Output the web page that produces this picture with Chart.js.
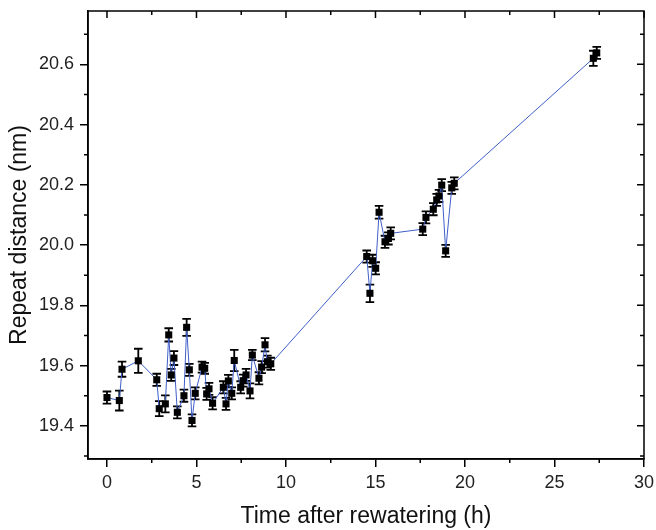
<!DOCTYPE html>
<html>
<head>
<meta charset="utf-8">
<script src="https://cdn.jsdelivr.net/npm/chart.js@4"></script>
<style>
  body { margin: 0; background: #fff; }
  #wrap { width: 656px; height: 530px; }
</style>
</head>
<body>
<div id="wrap"><canvas id="scatter" width="656" height="530"></canvas></div>
<script>
// time after rewatering (h)
var times = [0, 0.69, 0.84, 1.75, 2.78, 2.92, 3.26, 3.45, 3.59, 3.74, 3.93, 4.3, 4.45, 4.6, 4.75, 4.93,
    5.31, 5.46, 5.57, 5.7, 5.9, 6.5, 6.65, 6.78, 6.97, 7.11, 7.47, 7.61, 7.77, 7.99, 8.12, 8.49, 8.64,
    8.83, 8.96, 9.15, 14.51, 14.69, 14.84, 15.01, 15.2, 15.53, 15.72, 15.85, 17.64, 17.82, 18.23, 18.42,
    18.55, 18.7, 18.92, 19.26, 19.4, 27.17, 27.36];
// repeat distance (nm)
var distances = [19.494, 19.484, 19.588, 19.616, 19.553, 19.457, 19.473, 19.702, 19.569, 19.625, 19.445,
    19.5, 19.727, 19.586, 19.418, 19.508, 19.595, 19.591, 19.506, 19.523, 19.475, 19.528, 19.473, 19.549,
    19.508, 19.617, 19.528, 19.55, 19.569, 19.516, 19.635, 19.558, 19.595, 19.669, 19.613, 19.606,
    19.962, 19.84, 19.948, 19.923, 20.109, 20.011, 20.022, 20.039, 20.053, 20.092, 20.119, 20.15,
    20.163, 20.199, 19.981, 20.19, 20.205, 20.62, 20.638];
// error bar half-heights (nm)
var errors = [0.02, 0.033, 0.025, 0.04, 0.02, 0.025, 0.028, 0.022, 0.02, 0.023, 0.02,
    0.02, 0.028, 0.02, 0.02, 0.02, 0.018, 0.018, 0.02, 0.02, 0.02, 0.02, 0.02, 0.02,
    0.02, 0.035, 0.02, 0.02, 0.02, 0.025, 0.017, 0.02, 0.02, 0.022, 0.02, 0.02,
    0.02, 0.029, 0.02, 0.02, 0.021, 0.02, 0.02, 0.02, 0.02, 0.02, 0.02, 0.02,
    0.02, 0.02, 0.02, 0.02, 0.02, 0.025, 0.02];

var xTicks = [0, 5, 10, 15, 20, 25, 30];
var xMinor = [2.5, 7.5, 12.5, 17.5, 22.5, 27.5];
var yTicks = [19.4, 19.6, 19.8, 20.0, 20.2, 20.4, 20.6];
var yMinor = [19.3, 19.5, 19.7, 19.9, 20.1, 20.3, 20.5, 20.7];

var points = times.map(function (t, i) { return { x: t, y: distances[i] }; });

// error bars + Origin-style frame with mirrored inward ticks
var framePlugin = {
    id: 'frame',
    beforeDatasetsDraw: function (chart) {
        var c = chart.ctx, xs = chart.scales.x, ys = chart.scales.y;
        c.save();
        c.strokeStyle = '#000';
        c.lineWidth = 1.8;
        points.forEach(function (p, i) {
            var px = xs.getPixelForValue(p.x);
            var top = ys.getPixelForValue(p.y + errors[i]);
            var bot = ys.getPixelForValue(p.y - errors[i]);
            c.beginPath();
            c.moveTo(px, top); c.lineTo(px, bot);
            c.moveTo(px - 4.3, top); c.lineTo(px + 4.3, top);
            c.moveTo(px - 4.3, bot); c.lineTo(px + 4.3, bot);
            c.stroke();
        });
        c.restore();
    },
    afterDraw: function (chart) {
        var c = chart.ctx, a = chart.chartArea, xs = chart.scales.x, ys = chart.scales.y;
        c.save();
        c.strokeStyle = '#000';
        c.lineWidth = 1.5;
        c.strokeRect(a.left, a.top, a.right - a.left, a.bottom - a.top);
        c.beginPath();
        xTicks.forEach(function (v) {
            var px = xs.getPixelForValue(v);
            c.moveTo(px, a.top); c.lineTo(px, a.top + 7);
        });
        xMinor.forEach(function (v) {
            var px = xs.getPixelForValue(v);
            c.moveTo(px, a.top); c.lineTo(px, a.top + 4);
            c.moveTo(px, a.bottom); c.lineTo(px, a.bottom + 4);
        });
        yTicks.forEach(function (v) {
            var py = ys.getPixelForValue(v);
            c.moveTo(a.right, py); c.lineTo(a.right - 7, py);
        });
        yMinor.forEach(function (v) {
            var py = ys.getPixelForValue(v);
            c.moveTo(a.right, py); c.lineTo(a.right - 4, py);
            c.moveTo(a.left, py); c.lineTo(a.left - 4, py);
        });
        c.stroke();
        c.restore();
    }
};

var ctx = document.getElementById('scatter').getContext('2d');
var chart = new Chart(ctx, {
    type: 'scatter',
    data: {
        datasets: [{
            data: points,
            showLine: true,
            borderColor: '#3f5fc8',
            borderWidth: 1,
            pointStyle: 'rect',
            pointRadius: 5,
            pointBackgroundColor: '#000',
            pointBorderColor: '#000',
            pointBorderWidth: 0
        }]
    },
    plugins: [framePlugin],
    options: {
        responsive: false,
        animation: false,
        layout: { padding: { top: 11, right: 12, left: 0, bottom: 0 } },
        plugins: {
            legend: { display: false },
            tooltip: { enabled: false }
        },
        scales: {
            x: {
                type: 'linear',
                min: -1.06,
                max: 30,
                afterBuildTicks: function (s) { s.ticks = xTicks.map(function (v) { return { value: v }; }); },
                afterFit: function (s) { s.height = 71; s.paddingLeft = 0; s.paddingRight = 0; },
                grid: { drawOnChartArea: false, drawTicks: true, tickLength: 8, color: '#000', lineWidth: 1.5 },
                border: { color: '#000', width: 1.5 },
                ticks: {
                    padding: 5,
                    color: '#222',
                    maxRotation: 0,
                    font: { family: 'Arial, "Liberation Sans"', size: 18 }
                },
                title: {
                    display: true,
                    text: 'Time after rewatering (h)',
                    color: '#111',
                    padding: { top: 0, bottom: 0 },
                    font: { family: 'Arial, "Liberation Sans"', size: 23 }
                }
            },
            y: {
                type: 'linear',
                min: 19.29,
                max: 20.777,
                afterBuildTicks: function (s) { s.ticks = yTicks.map(function (v) { return { value: v }; }); },
                afterFit: function (s) { s.width = 88; s.paddingTop = 0; s.paddingBottom = 0; },
                grid: { drawOnChartArea: false, drawTicks: true, tickLength: 8, color: '#000', lineWidth: 1.5 },
                border: { color: '#000', width: 1.5 },
                ticks: {
                    padding: 6,
                    color: '#222',
                    font: { family: 'Arial, "Liberation Sans"', size: 18 },
                    callback: function (v) { return v.toFixed(1); }
                },
                title: {
                    display: true,
                    text: 'Repeat distance (nm)',
                    color: '#111',
                    padding: { top: 6, bottom: 0 },
                    font: { family: 'Arial, "Liberation Sans"', size: 23 }
                }
            }
        }
    }
});
</script>
</body>
</html>
